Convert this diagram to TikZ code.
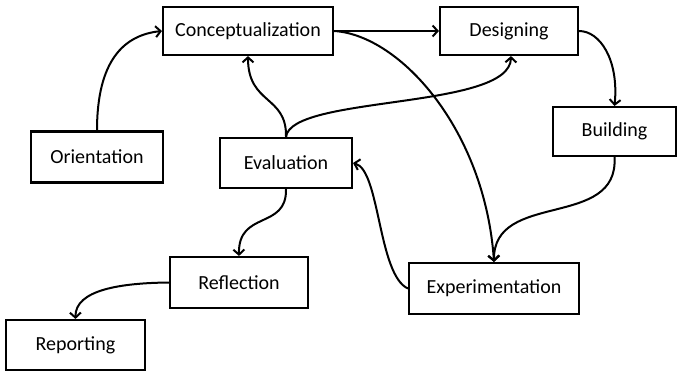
\documentclass[tikz,border=0pt]{standalone}
\usepackage{fontspec}
\setmainfont{Carlito}
\usetikzlibrary{arrows.meta}
\begin{document}
\begin{tikzpicture}[x=1pt,y=1pt,
  box/.style={draw, line width=2.1pt, inner sep=0pt, font=\fontsize{20}{24}\selectfont},
  conn/.style={line width=2pt, -{Straight Barb[length=5pt,width=11pt,line width=2pt]}}]
\useasboundingbox (0,0) rectangle (677,-372);
\node[box, minimum width=170pt, minimum height=48pt] (conc) at (248,-31) {Conceptualization};
\node[box, minimum width=138pt, minimum height=48pt] (des) at (509,-31) {Designing};
\node[box, minimum width=132pt, minimum height=51pt] (ori) at (97,-157) {Orientation};
\node[box, minimum width=132pt, minimum height=50pt] (eval) at (286,-163) {Evaluation};
\node[box, minimum width=123pt, minimum height=49pt] (build) at (614.5,-131.5) {Building};
\node[box, minimum width=138pt, minimum height=51pt] (refl) at (239,-282.5) {Reflection};
\node[box, minimum width=139pt, minimum height=50pt] (rep) at (75.5,-345) {Reporting};
\node[box, minimum width=170pt, minimum height=51pt] (exp) at (494,-288.5) {Experimentation};

\draw[conn] (ori.north) .. controls +(0,70) and +(-38,-4) .. (conc.west);
\draw[conn] (conc.east) -- (des.west);
\draw[conn] (conc.east) .. controls (400,-35) and (485,-130) .. (exp.north);
\draw[conn] (des.east) .. controls (600,-31) and (619,-60) .. (build.north);
\draw[conn] (build.south) .. controls (619,-230) and (493,-190) .. (exp.north);
\draw[conn] (exp.west) .. controls (378,-275) and (380,-170) .. (eval.east);
\draw[conn] (eval.north) .. controls (287,-95) and (248,-105) .. (conc.south);
\draw[conn] (eval.north) .. controls (291,-95) and (510,-110) .. ([xshift=2pt]des.south);
\draw[conn] (eval.south) .. controls (287,-230) and (238,-210) .. (refl.north);
\draw[conn] (refl.west) .. controls (120,-283) and (75,-290) .. (rep.north);
\end{tikzpicture}
\end{document}
